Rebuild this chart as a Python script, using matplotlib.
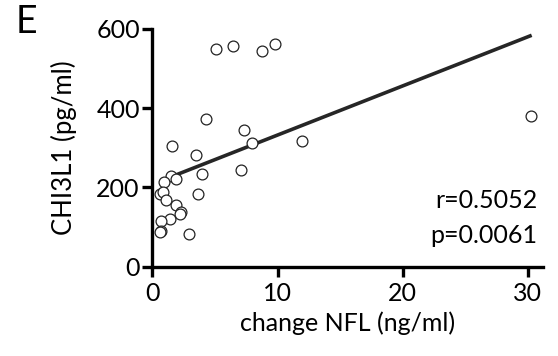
import numpy as np
import matplotlib
matplotlib.use("Agg")
import matplotlib.pyplot as plt

plt.rcParams["font.family"] = ["Lato", "DejaVu Sans"]

# change in NFL (ng/ml) vs CHI3L1 (pg/ml)
nfl = [5.1, 6.44, 8.78, 9.79, 30.24, 4.28, 7.29, 7.95, 11.97, 1.6,
       3.46, 7.07, 3.99, 1.49, 1.86, 0.93, 0.61, 0.82, 1.06, 3.64,
       1.91, 2.29, 2.21, 1.38, 0.72, 0.66, 0.61, 2.93]
chi3l1 = [549, 556, 545, 562, 379, 372, 346, 313, 317, 305,
          281, 243, 235, 229, 222, 214, 183, 189, 168, 184,
          156, 138, 133, 120, 116, 90, 87, 82]

# regression line
fit_slope = 12.4
fit_intercept = 208
fit_range = [1.5, 30.3]

r_text = "r=0.5052"
p_text = "p=0.0061"

fig = plt.figure(figsize=(5.58, 3.56), dpi=100)
ax = fig.add_axes([0.273, 0.251, 0.700, 0.668])

fx = np.array(fit_range)
ax.plot(fx, fit_slope * fx + fit_intercept, color="#262626", linewidth=2.6,
        solid_capstyle="butt", zorder=2)
ax.plot(nfl, chi3l1, "o", markersize=7.8, markerfacecolor="white",
        markeredgecolor="#222222", markeredgewidth=0.9, zorder=3)

ax.set_xlim(0, 31.2)
ax.set_ylim(0, 600)
ax.set_xticks([0, 10, 20, 30])
ax.set_yticks([0, 200, 400, 600])

for s in ["top", "right"]:
    ax.spines[s].set_visible(False)
for s in ["left", "bottom"]:
    ax.spines[s].set_linewidth(2.4)
ax.tick_params(width=2.4, length=7, labelsize=18, pad=2)
ax.tick_params(axis="x", pad=4)

ax.set_xlabel("change NFL (ng/ml)", fontsize=18, labelpad=5)
ax.set_ylabel("CHI3L1 (pg/ml)", fontsize=18.5, labelpad=14)

ax.text(0.985, 0.246, r_text, transform=ax.transAxes, ha="right", va="baseline", fontsize=18)
ax.text(0.985, 0.098, p_text, transform=ax.transAxes, ha="right", va="baseline", fontsize=18)

fig.text(0.028, 0.99, "E", fontsize=27, va="top", ha="left")

fig.savefig("out.png", dpi=100)
